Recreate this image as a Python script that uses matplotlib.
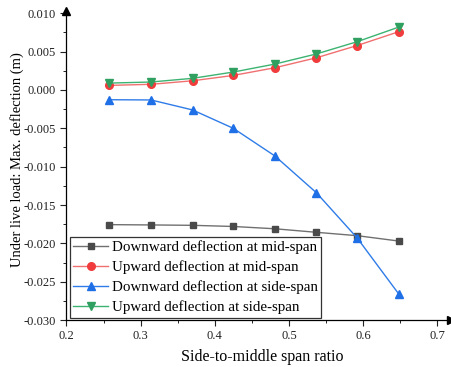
import matplotlib.pyplot as plt
from matplotlib.ticker import MultipleLocator

ratio = [0.258, 0.314, 0.370, 0.425, 0.481, 0.537, 0.592, 0.648]
down_mid = [-0.01756, -0.0176, -0.01765, -0.0178, -0.0181, -0.01856, -0.0190, -0.0197]
up_mid = [0.0006, 0.00074, 0.0012, 0.0019, 0.0029, 0.0042, 0.0058, 0.0076]
down_side = [-0.00127, -0.0013, -0.0026, -0.0050, -0.0086, -0.0134, -0.0193, -0.0266]
up_side = [0.0009, 0.00104, 0.00152, 0.00234, 0.00338, 0.0047, 0.0063, 0.0082]

labels = ['Downward deflection at mid-span', 'Upward deflection at mid-span',
          'Downward deflection at side-span', 'Upward deflection at side-span']

plt.rcParams['font.family'] = ['Liberation Serif', 'DejaVu Serif']

fig = plt.figure(figsize=(4.52, 3.67), dpi=100)
ax = fig.add_axes([0.147, 0.128, 0.85, 0.842])

ax.plot(ratio, down_mid, color='#707070', marker='s', mfc='#4a4a4a', mec='#4a4a4a', ms=5, lw=1, label=labels[0])
ax.plot(ratio, up_mid, color='#f07070', marker='o', mfc='#f03c3c', mec='#f03c3c', ms=5.5, lw=1, label=labels[1])
ax.plot(ratio, down_side, color='#2f7ce8', marker='^', mfc='#1f6fe6', mec='#1f6fe6', ms=6, lw=1, label=labels[2])
ax.plot(ratio, up_side, color='#3cb371', marker='v', mfc='#2fa060', mec='#2fa060', ms=6, lw=1, label=labels[3])

ax.set_xlim(0.2, 0.718)
ax.set_ylim(-0.030, 0.0103)
ax.xaxis.set_minor_locator(MultipleLocator(0.05))
ax.yaxis.set_minor_locator(MultipleLocator(0.0025))
ax.set_yticks([-0.030, -0.025, -0.020, -0.015, -0.010, -0.005, 0.000, 0.005, 0.010])
ax.set_yticklabels(['-0.030', '-0.025', '-0.020', '-0.015', '-0.010', '-0.005', '0.000', '0.005', '0.010'])
ax.set_xticks([0.2, 0.3, 0.4, 0.5, 0.6, 0.7])
ax.set_xticklabels(['0.2', '0.3', '0.4', '0.5', '0.6', '0.7'])
ax.tick_params(which='major', direction='out', length=4, width=0.8, labelsize=9, colors='#222222')
ax.tick_params(which='minor', direction='out', length=2, width=0.6)

for s in ['top', 'right']:
    ax.spines[s].set_visible(False)
for s in ['left', 'bottom']:
    ax.spines[s].set_linewidth(0.9)

# arrow heads on the axes
ax.plot(1, -0.030, '>k', ms=6, transform=ax.get_yaxis_transform(), clip_on=False)
ax.plot(0.2, 1, '^k', ms=6, transform=ax.get_xaxis_transform(), clip_on=False)

ax.set_xlabel('Side-to-middle span ratio', fontsize=11.5)
ax.set_ylabel('Under live load: Max. deflection (m)', fontsize=10.5)
ax.xaxis.set_label_coords(0.51, -0.095)
ax.yaxis.set_label_coords(-0.11, 0.52)

leg = ax.legend(loc='lower left', bbox_to_anchor=(0.008, 0.006), fontsize=10.8, frameon=True,
                fancybox=False, edgecolor='black', handlelength=2.3, handletextpad=0.25,
                borderpad=0.25, labelspacing=0.42, borderaxespad=0)
leg.get_frame().set_linewidth(0.9)

fig.savefig('out.png', dpi=100)
